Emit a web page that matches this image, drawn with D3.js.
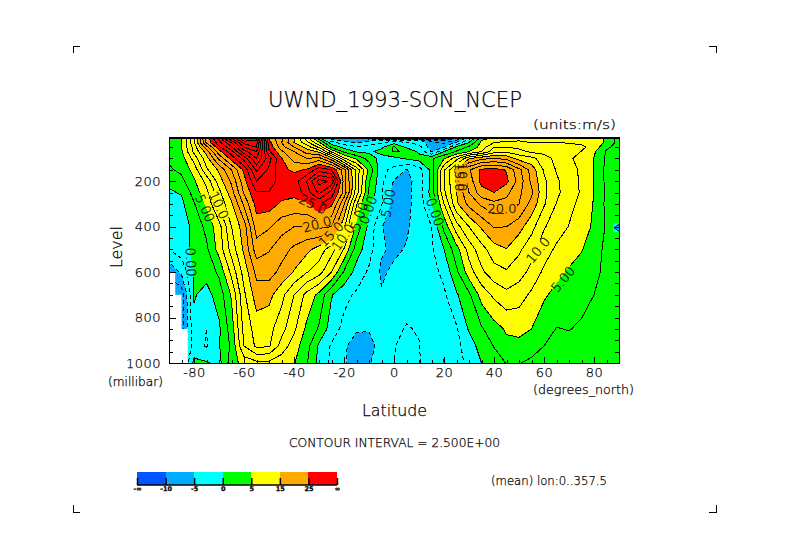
<!DOCTYPE html>
<html>
<head>
<meta charset="utf-8">
<script src="https://cdn.jsdelivr.net/npm/d3@7"></script>
<style>
  html, body { margin: 0; background: #fff; }
  text { font-family: "DejaVu Sans", sans-serif; font-weight: 200; fill: #000; stroke: #000; stroke-width: 0.25px; }
</style>
</head>
<body>
<script>
// grid, 5 degree columns from -90 to 90
const lats = d3.range(-90, 90.1, 5);
const levels = [10, 20, 30, 50, 70, 100, 150, 200, 250, 300, 400, 500, 600, 700, 850, 925, 1000];

const u10 = [3,4.8,12.5,23.5,31,40,47,45,25,20.5,15.5,9,1,-6,-8,-7,-9,-22,-26,-28,-25,-20,-16,-9,-4,3,5.5,6.5,7,7,7.2,7.3,7.2,6.9,6.3,4.6,1.5];
const u20 = [3,4.8,12,23,30,38,46,45,25,20.5,15.2,10,3.5,-4,-6,-6.5,-6,-4,-3.5,-4,-4.5,-9,-11,-7.5,-1.5,5,6.5,7,7.3,7.4,7.4,7.4,7.2,6.9,6.3,4.6,1.5];
const u30 = [3,4.8,12,23,29,35,43.5,43.5,26,20,15,11,5.5,-1.5,-4,-5.5,-4,-3,-1,-2.5,-3.5,-6.5,-8,-4.5,0,5.5,7.5,8,8,7.5,7.5,7.5,7.3,7,6.3,4.6,1.5];
const u50 = [3,4.9,11,19,27,32,40,42.5,27,21,17.5,14,9.5,2,-0.8,-2,-1.5,-0.5,2.8,-0.5,-1.5,-6.5,-5.2,0.5,3,6,10,10,9.3,8.8,9.4,9.6,8.6,8,6.6,3,1.5];
const u70 = [2.8,4.7,10.5,16,24,29,36.5,40,28,23,20,16.5,14.5,7,2,-0.2,-0.5,0.8,2.7,2.2,-0.5,-5.1,0,2.8,5,7.5,11.5,12.2,11,9.5,9.2,9.2,8.9,7.4,5.4,2.2,1.5];
const u100 = [2.8,3.8,8.5,14,20.5,26,31,37.5,31,25.2,21.5,20,21,16,8,4.5,1.5,-1,-0.7,0.3,1,2,4.8,9,14.7,16.8,17.6,16.7,14,13.3,11.2,9.2,7.9,6.6,4.9,2.1,1.5];
const u150 = [2.2,3,6,12,15.5,20,25.6,33,29.5,25.5,24.6,25.2,29,27.5,21,11.5,4.5,-1.8,-3.2,-5.1,-3.8,0.8,9.6,15.8,22.2,25.5,26,24.8,20.7,16.5,12.2,9.8,8.4,7.1,4.9,1.8,1];
const u200 = [0.5,1.8,4.6,8.3,13.7,18,24,30,28.4,26.7,26.2,30,36,34.5,21.5,11.5,2.8,-1.9,-5.2,-5.8,-4,0.8,10,15.5,21,25.8,27.3,25.6,21.5,17,13,10.4,8.7,7.1,4.9,1.9,1];
const u250 = [-0.3,0.2,3.5,6.8,11.8,16.4,22.8,27.3,27.4,26,25.5,28.8,33,29,21.7,11.2,2.2,-2.2,-5.8,-5.7,-3.8,1,9.5,15,20,24,25,23.2,20.5,18,13.1,10.5,8.8,7.2,5,2,1.5];
const u300 = [-1.5,-0.6,2.3,5.5,10.6,14.6,20.5,26,26.1,24.6,24.4,24.6,27.8,25.6,17.8,7.8,0.5,-2.3,-6,-5.8,-3.8,0,7.5,14.5,18.3,20.5,21.8,21.6,20,16.6,12.8,9.9,8.2,6.8,4.8,1.9,1.5];
const u400 = [-2,-1.5,0.8,3.2,6.5,12.5,16.3,23.7,22.8,21,20,20,20.5,20,13,4.2,-0.8,-4.9,-6,-5.4,-3.6,-2.5,3.2,9,12.5,15.4,17.7,17.5,16,13.4,10.2,8.9,7.4,6.4,4.5,2.2,1.5];
const u500 = [-2.5,-1.2,0.7,2,6,11,15.5,21.3,20.2,18.5,17,15.7,14,11,7.3,1.2,-1.5,-4.7,-5.5,-4.8,-3.8,-2.9,0,4,8.5,11.5,14,14.9,13,10.9,8.8,7,6.1,5.2,3.4,2,1.6];
const u600 = [-7,-4.5,0.2,0.8,3,8.2,13.5,18.2,18.5,16.8,14.8,12.7,11,7.5,2.2,-1,-2.9,-5.4,-4.5,-3.9,-3.6,-3.3,-1.9,2,6.3,9.5,11.5,12.2,11,9.3,7,5.6,4.7,3.7,2.8,2.2,1.8];
const u700 = [-9,-9,0.2,-0.8,1,5.3,12,16.3,15.8,13.3,10,6.8,4.3,0.2,-1.8,-2.9,-3.8,-4.8,-4.4,-3.7,-3.6,-3.5,-2.9,-0.3,2,6,8,9.3,8.7,7,5.3,4.4,4,3.4,2.5,2,1.6];
const u850 = [-9,-9,-0.6,-2.5,-0.4,3.8,10.8,13.6,13.3,11,8,4.5,2.2,-1.3,-3.2,-4.7,-4.8,-3.8,-3.1,-2.3,-2.7,-3.3,-3.4,-2.8,0.3,2.2,4,5.3,5.5,5,3.7,2.4,2.6,2.1,1.8,1.5,1.2];
const u925 = [-7,-6.5,-1.5,-2.7,-0.2,3,10,13,12.8,9,6.2,3.5,-0.5,-2.8,-4.6,-6.2,-6,-3.9,-2.6,-1.9,-2.4,-3.8,-4.3,-3.2,-1.2,1,2.6,4.4,4.5,3.3,2.5,1.9,1.8,1.7,1.6,1.3,1];
const u1000 = [-7,-6,0.6,0.3,-0.8,3.8,6,6.8,6.8,6,5.2,2.8,-0.7,-3,-4.5,-7,-5.2,-3.8,-2.5,-1.8,-2.4,-3.5,-5.2,-3.5,-1.8,0,1.4,2.6,2.6,2.1,1.6,1.2,1,0.9,0.8,0.6,0.4];
const uRows = [u10, u20, u30, u50, u70, u100, u150, u200, u250, u300, u400, u500, u600, u700, u850, u925, u1000];

const fillBreaks = [-10, -5, 0, 5, 15, 25];
const fillColors = ["#0055ff", "#00aaff", "#00ffff", "#00ff00", "#ffff00", "#ffaa00", "#ff0000"];
const legendLabels = ["-∞", "-10", "-5", "0", "5", "15", "25", "∞"];
const lineLevels = d3.range(-30, 50.1, 2.5);

// no data below ground, stepped at the lower left
const missingLat = [-87.5, -85, -82.5];
const missingTop = [600, 700, 850];
const boxLat = [87.6, 90, 90, 87.6];
const boxLevel = [385, 385, 424, 424];
const wedgeLat = [90, 88, 90];
const wedgeLevel = [390, 405, 420];

const labelText = ["5.00", "10.0", "0.00", "25.0", "20.0", "15.0", "10.0", "5.00", "0.00", "5.00", "0.00", "20.0", "10.0", "5.00", "15.0", "10.0"];
const labelLat = [-75.6, -70, -81.2, -32.4, -30.8, -25.2, -20.4, -14, -10.4, -2.4, 16.4, 43.2, 57.6, 67.6, 26.2, 27.4];
const labelLevel = [319, 305, 556, 301, 389, 433, 446, 354, 327, 297, 336, 319, 503, 631, 182, 182];
const labelAngle = [65, 65, 88, 25, -15, -45, -55, -70, -70, -80, 70, 0, -50, -50, 90, 90];

const width = 789, height = 558;
const x = d3.scaleLinear().domain([-90, 90]).range([169, 619]);
const y = d3.scaleLinear().domain([10, 1000]).range([138, 363]);
// contour coords come back in grid units, cell centres sit at +0.5
const latOfIndex = d3.scaleLinear().domain([0, lats.length - 1]).range([-90, 90]);
const levelOfIndex = d3.scaleLinear().domain(d3.range(levels.length)).range(levels);

const svg = d3.select("body").append("svg")
    .attr("width", width)
    .attr("height", height)
    .style("display", "block");

const defs = svg.append("defs");
defs.append("clipPath").attr("id", "plotClip").append("rect")
    .attr("x", x(-90)).attr("y", y(10) + 1)
    .attr("width", x(90) - x(-90)).attr("height", y(1000) - y(10) - 1);

const flat = uRows.flat();
const project = d3.geoTransform({
    point: function(cx, cy) {
        this.stream.point(x(latOfIndex(cx - 0.5)), y(levelOfIndex(cy - 0.5)));
    }
});
const path = d3.geoPath(project);
const contours = d3.contours().size([lats.length, levels.length]);

const plot = svg.append("g").attr("clip-path", "url(#plotClip)");

plot.append("rect")
    .attr("x", x(-90)).attr("y", y(10))
    .attr("width", x(90) - x(-90)).attr("height", y(1000) - y(10))
    .attr("fill", fillColors[0]);

plot.append("g")
    .attr("shape-rendering", "crispEdges")
    .selectAll("path")
    .data(contours.thresholds(fillBreaks)(flat))
    .enter().append("path")
    .attr("d", path)
    .attr("fill", (d, i) => fillColors[i + 1]);

// gaps in the lines under the labels
const mask = defs.append("mask").attr("id", "labelGaps").attr("maskUnits", "userSpaceOnUse")
    .attr("x", 0).attr("y", 0).attr("width", width).attr("height", height);
mask.append("rect").attr("width", width).attr("height", height).attr("fill", "#fff");
mask.selectAll("rect.gap")
    .data(labelText)
    .enter().append("rect")
    .attr("class", "gap")
    .attr("x", -15).attr("y", -5).attr("width", 30).attr("height", 10)
    .attr("fill", "#000")
    .attr("transform", (d, i) => `translate(${x(labelLat[i])},${y(labelLevel[i])}) rotate(${labelAngle[i]})`);

plot.append("g")
    .attr("mask", "url(#labelGaps)")
    .attr("shape-rendering", "crispEdges")
    .selectAll("path")
    .data(contours.thresholds(lineLevels)(flat))
    .enter().append("path")
    .attr("d", path)
    .attr("fill", "none")
    .attr("stroke", "#000")
    .attr("stroke-width", 1)
    .attr("stroke-dasharray", d => d.value < 0 ? "4,3" : null);

plot.selectAll("rect.missing")
    .data(missingLat)
    .enter().append("rect")
    .attr("class", "missing")
    .attr("x", x(-90))
    .attr("y", (d, i) => y(missingTop[i]))
    .attr("width", d => x(d) - x(-90))
    .attr("height", (d, i) => y(1000) - y(missingTop[i]))
    .attr("fill", "#fff");

const polyLine = d3.line().x(d => x(d[0])).y(d => y(d[1]));
plot.append("path")
    .attr("d", polyLine(d3.zip(boxLat, boxLevel)))
    .attr("fill", "#00ffff");
plot.append("path")
    .attr("d", polyLine(d3.zip(wedgeLat, wedgeLevel)))
    .attr("fill", "#00aaff")
    .attr("stroke", "#000");

plot.selectAll("text.clabel")
    .data(labelText)
    .enter().append("text")
    .attr("class", "clabel")
    .attr("text-anchor", "middle")
    .attr("dy", "0.36em")
    .attr("font-size", 13)
    .attr("transform", (d, i) => `translate(${x(labelLat[i])},${y(labelLevel[i])}) rotate(${labelAngle[i]})`)
    .text(d => d);

// axes, ticks point into the plot
function styleAxis(g) {
    g.select(".domain").remove();
    g.selectAll("line").attr("stroke", "#000").attr("shape-rendering", "crispEdges");
    g.selectAll("text").attr("font-size", 13).attr("letter-spacing", "0.5px").attr("fill", "#000");
}

svg.append("g").attr("transform", `translate(0,${y(1000)})`)
    .call(d3.axisBottom(x).tickValues(d3.range(-90, 91, 5)).tickSize(-3).tickFormat(""))
    .call(styleAxis);
svg.append("g").attr("transform", `translate(0,${y(1000)})`)
    .call(d3.axisBottom(x).tickValues(d3.range(-80, 81, 20)).tickSize(-6).tickPadding(5).tickFormat(d => String(d)))
    .call(styleAxis);

svg.append("g").attr("transform", `translate(${x(-90)},0)`)
    .call(d3.axisLeft(y).tickValues(d3.range(50, 1001, 50)).tickSize(-4).tickFormat(""))
    .call(styleAxis);
svg.append("g").attr("transform", `translate(${x(-90)},0)`)
    .call(d3.axisLeft(y).tickValues(d3.range(200, 1001, 200)).tickSize(-7).tickPadding(8).tickFormat(d => String(d)))
    .call(styleAxis);
svg.append("g").attr("transform", `translate(${x(90)},0)`)
    .call(d3.axisRight(y).tickValues(d3.range(50, 1001, 50)).tickSize(-4).tickFormat(""))
    .call(styleAxis);

svg.append("rect")
    .attr("x", x(-90) + 0.5).attr("y", y(10) + 0.5)
    .attr("width", x(90) - x(-90)).attr("height", y(1000) - y(10))
    .attr("fill", "none").attr("stroke", "#000").attr("shape-rendering", "crispEdges");
svg.append("line")
    .attr("x1", x(-90)).attr("x2", x(90) + 1)
    .attr("y1", y(10)).attr("y2", y(10))
    .attr("stroke", "#000").attr("stroke-width", 2);

function addText(str, px, py, size, len, rot) {
    const t = svg.append("text")
        .attr("font-size", size)
        .attr("textLength", len)
        .attr("lengthAdjust", "spacingAndGlyphs")
        .text(str);
    if (rot) t.attr("transform", `translate(${px},${py}) rotate(${rot})`);
    else t.attr("x", px).attr("y", py);
}

addText("UWND_1993-SON_NCEP", 268, 107, 22, 254);
addText("(units:m/s)", 533, 129, 13, 83);
addText("Level", 122, 268, 15, 42, -90);
addText("Latitude", 362, 416, 15, 65);
addText("(millibar)", 108, 386, 11.5, 55);
addText("(degrees_north)", 533, 394, 12, 101);
addText("CONTOUR INTERVAL = 2.500E+00", 289, 447, 12, 211);
addText("(mean) lon:0..357.5", 491, 485, 12, 116);

// colour key
const keyX = d3.scaleLinear().domain([0, fillColors.length]).range([137, 337]);
const key = svg.append("g").attr("shape-rendering", "crispEdges");
key.selectAll("rect")
    .data(fillColors)
    .enter().append("rect")
    .attr("x", (d, i) => keyX(i))
    .attr("y", 472)
    .attr("width", (d, i) => keyX(i + 1) - keyX(i))
    .attr("height", 13)
    .attr("fill", d => d);
svg.append("g").attr("transform", "translate(0,485)")
    .call(d3.axisBottom(keyX).tickValues(d3.range(0, 8)).tickSize(-7).tickPadding(1)
        .tickFormat((d, i) => legendLabels[i]))
    .call(g => {
        g.select(".domain").attr("d", `M${keyX(0)},0H${keyX(7)}`).attr("stroke", "#000").attr("stroke-width", 1.5);
        g.selectAll("line").attr("stroke", "#000").attr("stroke-width", 1.5);
        g.selectAll("text").attr("font-size", 6.5).attr("fill", "#000").style("font-weight", 700);
    });

// crop marks at the page corners
const cropX = [73, 716];
const cropY = [46, 512];
cropX.forEach((cx, i) => cropY.forEach((cy, j) => {
    const dx = i ? -7 : 7, dy = j ? -7 : 7;
    svg.append("path")
        .attr("d", d3.line()([[cx + dx, cy], [cx, cy], [cx, cy + dy]]))
        .attr("fill", "none").attr("stroke", "#000")
        .attr("shape-rendering", "crispEdges");
}));
</script>
</body>
</html>
